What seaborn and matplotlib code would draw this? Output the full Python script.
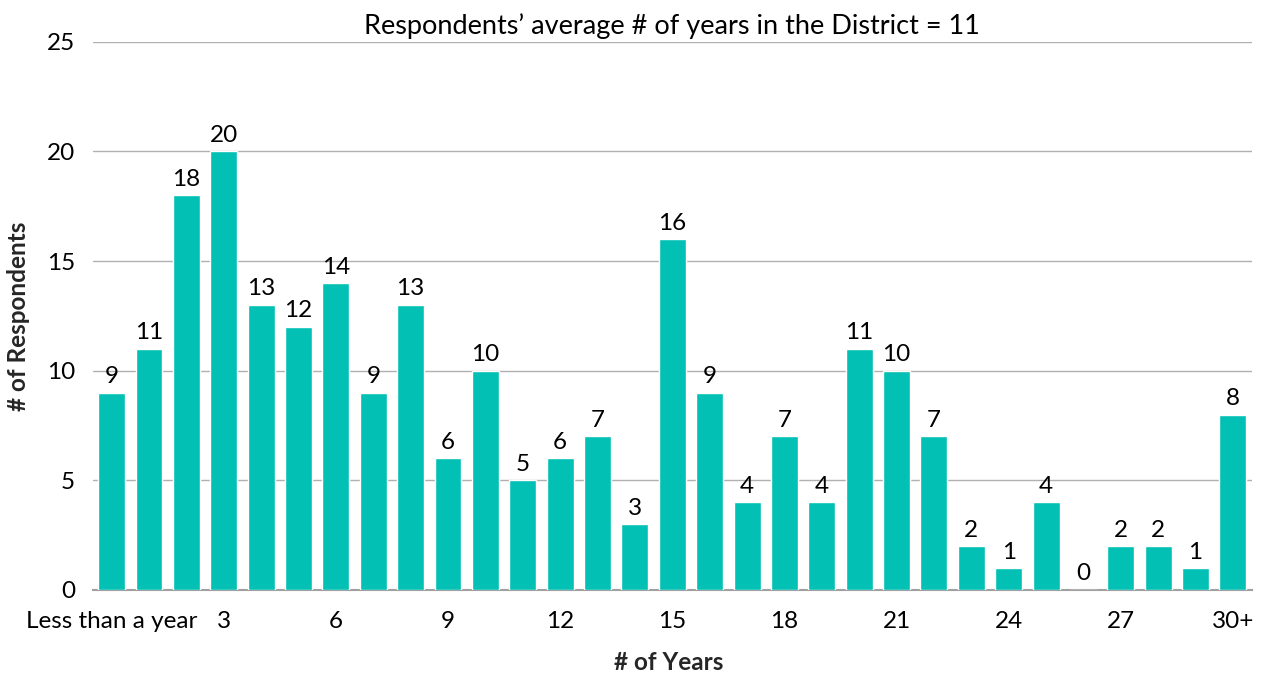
import matplotlib
matplotlib.use("Agg")
import matplotlib.pyplot as plt
import seaborn as sns
import pandas as pd

# categories: years in the District
categories = ["Less than a year"] + [str(i) for i in range(1, 30)] + ["30+"]
respondents = [9, 11, 18, 20, 13, 12, 14, 9, 13, 6, 10, 5, 6, 7, 3, 16,
               9, 4, 7, 4, 11, 10, 7, 2, 1, 4, 0, 2, 2, 1, 8]
shown_ticks = ["Less than a year", "3", "6", "9", "12", "15", "18", "21",
               "24", "27", "30+"]

df = pd.DataFrame({"years": categories, "count": respondents})

sns.set_style("white")
plt.rcParams["font.family"] = ["Lato", "DejaVu Sans"]
plt.rcParams["text.color"] = "black"
plt.rcParams["xtick.color"] = "black"
plt.rcParams["ytick.color"] = "black"

fig = plt.figure(figsize=(12.63, 6.75), dpi=100)
ax = fig.add_axes([0.0736, 0.126, 0.9174, 0.812])

sns.barplot(data=df, x="years", y="count", color="#02C0B4", width=0.72,
            saturation=1, ax=ax, zorder=3)

for i, v in enumerate(respondents):
    ax.text(i, v + 0.25, str(v), ha="center", va="bottom", fontsize=17.5)

ax.set_ylim(0, 25)
ax.set_yticks([0, 5, 10, 15, 20, 25])
ax.set_xlim(-0.5, 30.5)
ax.set_xticks([categories.index(t) for t in shown_ticks])
ax.set_xticklabels(shown_ticks)
ax.tick_params(axis="both", labelsize=17.5, length=0)
ax.tick_params(axis="y", pad=13)
ax.tick_params(axis="x", pad=15)
ax.yaxis.grid(True, color="#B0B0B0", linewidth=1, zorder=0)

for s in ["top", "right", "left"]:
    ax.spines[s].set_visible(False)
ax.spines["bottom"].set_color("#A0A0A0")
ax.spines["bottom"].set_linewidth(1.5)

ax.set_xlabel("# of Years", fontsize=17.5, fontweight="bold")
ax.set_ylabel("# of Respondents", fontsize=17.5, fontweight="bold")
ax.xaxis.set_label_coords(0.497, -0.112)
ax.yaxis.set_label_coords(-0.054, 0.5)
ax.set_title("Respondents\u2019 average # of years in the District = 11",
             fontsize=19.5, pad=6)

plt.savefig("out.png", dpi=100)
